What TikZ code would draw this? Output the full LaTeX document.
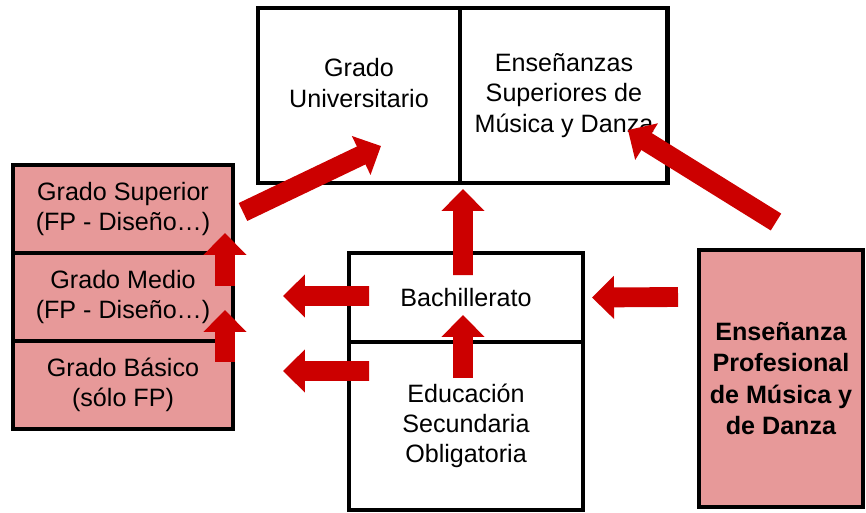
\documentclass[tikz,border=0pt]{standalone}
\usepackage{fontspec}
\setmainfont{Liberation Sans}
\usetikzlibrary{
    arrows.meta,
    positioning,
    calc
}
\definecolor{fpred}{RGB}{204,0,0}
\definecolor{fppink}{RGB}{231,153,153}

\begin{document}
\begin{tikzpicture}[x=0.02cm, y=-0.02cm,
        box/.style={draw, line width=2.8pt, outer sep=0pt, inner sep=0pt, align=center, font=\fontsize{14.3}{17.2}\selectfont},
        fp/.style={box, fill=fppink},
        txt/.style={align=center, font=\fontsize{14.3}{17.2}\selectfont},
        flow/.style={draw=fpred, line width=11.3pt, -{Triangle[width=23.8pt, length=12.5pt]}}]
        \useasboundingbox (0,0) rectangle (866,512);

        % Top row
        \node[box, minimum width=4.04cm, minimum height=3.5cm] (univ) at (359,95.5) {};
        \node[txt] (univtxt) at (359,83) {Grado\\Universitario};
        \node[box, minimum width=4.16cm, minimum height=3.5cm, right=0pt of univ] (musica) {Enseñanzas\\Superiores de\\Música y Danza};

        % FP stack
        \node[fp, minimum width=4.4cm, minimum height=1.76cm] (gsup) at (123,209) {Grado Superior\\(FP - Diseño…)};
        \node[fp, minimum width=4.4cm, minimum height=1.76cm, below=0pt of gsup] (gmed) {Grado Medio\\(FP - Diseño…)};
        \node[fp, minimum width=4.4cm, minimum height=1.76cm, below=0pt of gmed] (gbas) {Grado Básico\\(sólo FP)};

        % Middle column
        \node[box, minimum width=4.68cm, minimum height=1.78cm] (bach) at (466,297.5) {Bachillerato};
        \node[box, minimum width=4.68cm, minimum height=3.36cm, below=0pt of bach] (eso) {Educación\\Secundaria\\Obligatoria};

        % Music and dance
        \node[fp, minimum width=3.28cm, minimum height=5.14cm, font=\bfseries\fontsize{14.3}{17.8}\selectfont] (prof) at (781,378.5) {Enseñanza\\Profesional\\de Música y\\de Danza};

        % Arrows
        \draw[flow] ($(gsup.east)+(10,3)$) -- ($(univ.south)+(22,-37)$);
        \draw[flow] ($(bach.north)+(-3,22)$) -- ($(univ.south east)+(3,6)$);
        \draw[flow] ($(eso.north)+(-3,36)$) -- ($(bach.south)+(-3,-27)$);
        \draw[flow] ($(bach.west)+(20,-1.5)$) -- ($(gmed.east)+(50,-1)$);
        \draw[flow] ($(eso.north west)+(20,29)$) -- ($(gbas.east)+(50,-14)$);
        \draw[flow] ($(gbas.north east)+(-8,21)$) -- ($(gmed.east)+(-8,13)$);
        \draw[flow] ($(gmed.north east)+(-8,33)$) -- ($(gsup.east)+(-8,24)$);
        \draw[flow] ($(prof.west)+(-21,-81.5)$) -- ($(bach.east)+(9,0)$);
        \draw[flow] ($(prof.north)+(-5,-28)$) -- ($(musica.east)+(-40,34.5)$);
\end{tikzpicture}
\end{document}
